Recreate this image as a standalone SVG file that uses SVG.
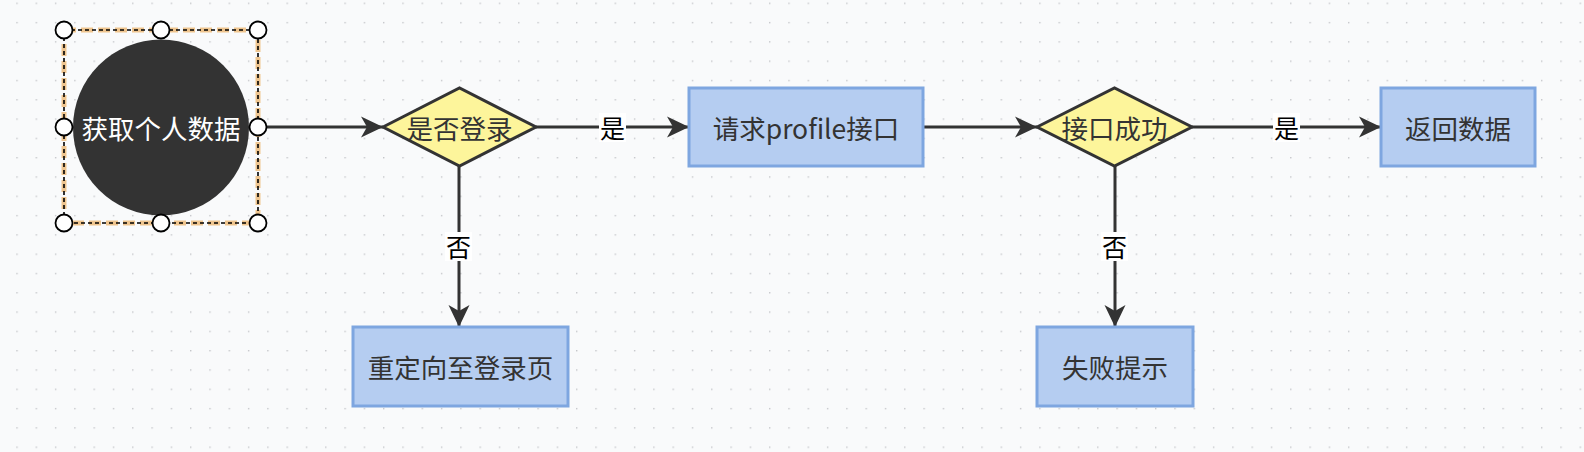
<svg xmlns="http://www.w3.org/2000/svg" width="1584" height="452" viewBox="0 0 1584 452">
<defs>
<pattern id="grid" x="16.3" y="2.6" width="19.3" height="19.3" patternUnits="userSpaceOnUse">
<rect x="0" y="0" width="1.4" height="1.4" fill="#c4c6c9"/>
</pattern>
<marker id="arr" markerUnits="userSpaceOnUse" markerWidth="24" markerHeight="22" refX="22" refY="11" orient="auto">
<path d="M0,0.5 L22,11 L0,21.5 L6,11 Z" fill="#333333"/>
</marker>
</defs>
<style>
.t{font-family:"Noto Sans CJK SC","Noto Sans",sans-serif;font-size:26.5px;fill:#333333;text-anchor:middle;dominant-baseline:central}
.w{fill:#ffffff}
.lb{font-family:"Noto Sans CJK SC","Noto Sans",sans-serif;font-size:25px;fill:#000000;text-anchor:middle;dominant-baseline:central}
.box{fill:#b5cdf1;stroke:#7ea6e0;stroke-width:3}
.dia{fill:#fdf59b;stroke:#333333;stroke-width:3;stroke-linejoin:miter}
.e{stroke:#333333;stroke-width:3;fill:none;marker-end:url(#arr)}
.h{fill:#ffffff;stroke:#000000;stroke-width:1.8}
</style>
<rect x="0" y="0" width="1584" height="452" fill="#f9fafb"/>
<rect x="0" y="0" width="1584" height="452" fill="url(#grid)"/>

<g id="connectors">
<line class="e" x1="249" y1="127" x2="383" y2="127"/>
<line class="e" x1="536" y1="127" x2="689" y2="127"/>
<line class="e" x1="923" y1="127" x2="1037" y2="127"/>
<line class="e" x1="1192" y1="127" x2="1381" y2="127"/>
<line class="e" x1="459" y1="166" x2="459" y2="327"/>
<line class="e" x1="1115" y1="166" x2="1115" y2="327"/>
<rect x="599" y="113" width="27" height="29" fill="#ffffff"/>
<text class="lb" x="612.5" y="127">是</text>
<rect x="1273" y="113" width="27" height="29" fill="#ffffff"/>
<text class="lb" x="1286.5" y="127">是</text>
<rect x="445" y="232" width="27" height="29" fill="#ffffff"/>
<text class="lb" x="458.5" y="246">否</text>
<rect x="1101" y="232" width="27" height="29" fill="#ffffff"/>
<text class="lb" x="1114.5" y="246">否</text>
</g>

<g id="start">
<circle cx="161" cy="127.5" r="88" fill="#333333"/>
<text class="t w" x="161" y="127">获取个人数据</text>
<rect x="64" y="30" width="194" height="193" fill="none" stroke="#efc58f" stroke-width="5" stroke-dasharray="12 5"/>
<rect x="64" y="30" width="194" height="193" fill="none" stroke="#000000" stroke-width="1.6" stroke-dasharray="4 3"/>
<circle class="h" cx="64" cy="30" r="8.5"/>
<circle class="h" cx="161" cy="30" r="8.5"/>
<circle class="h" cx="258" cy="30" r="8.5"/>
<circle class="h" cx="64" cy="127" r="8.5"/>
<circle class="h" cx="258" cy="127" r="8.5"/>
<circle class="h" cx="64" cy="223" r="8.5"/>
<circle class="h" cx="161" cy="223" r="8.5"/>
<circle class="h" cx="258" cy="223" r="8.5"/>
</g>

<g id="isLogin">
<polygon class="dia" points="383,127 459.5,88 536,127 459.5,166"/>
<text class="t" x="459.5" y="127">是否登录</text>
</g>

<g id="request">
<rect class="box" x="689" y="88" width="234" height="78"/>
<text class="t" x="806" y="127">请求profile接口</text>
</g>

<g id="success">
<polygon class="dia" points="1037,127 1114.5,88 1192,127 1114.5,166"/>
<text class="t" x="1114.5" y="127">接口成功</text>
</g>

<g id="returnData">
<rect class="box" x="1381" y="88" width="154" height="78"/>
<text class="t" x="1458" y="127">返回数据</text>
</g>

<g id="redirect">
<rect class="box" x="353" y="327" width="215" height="79"/>
<text class="t" x="460.5" y="366.5">重定向至登录页</text>
</g>

<g id="fail">
<rect class="box" x="1037" y="327" width="156" height="79"/>
<text class="t" x="1115" y="366.5">失败提示</text>
</g>
</svg>
